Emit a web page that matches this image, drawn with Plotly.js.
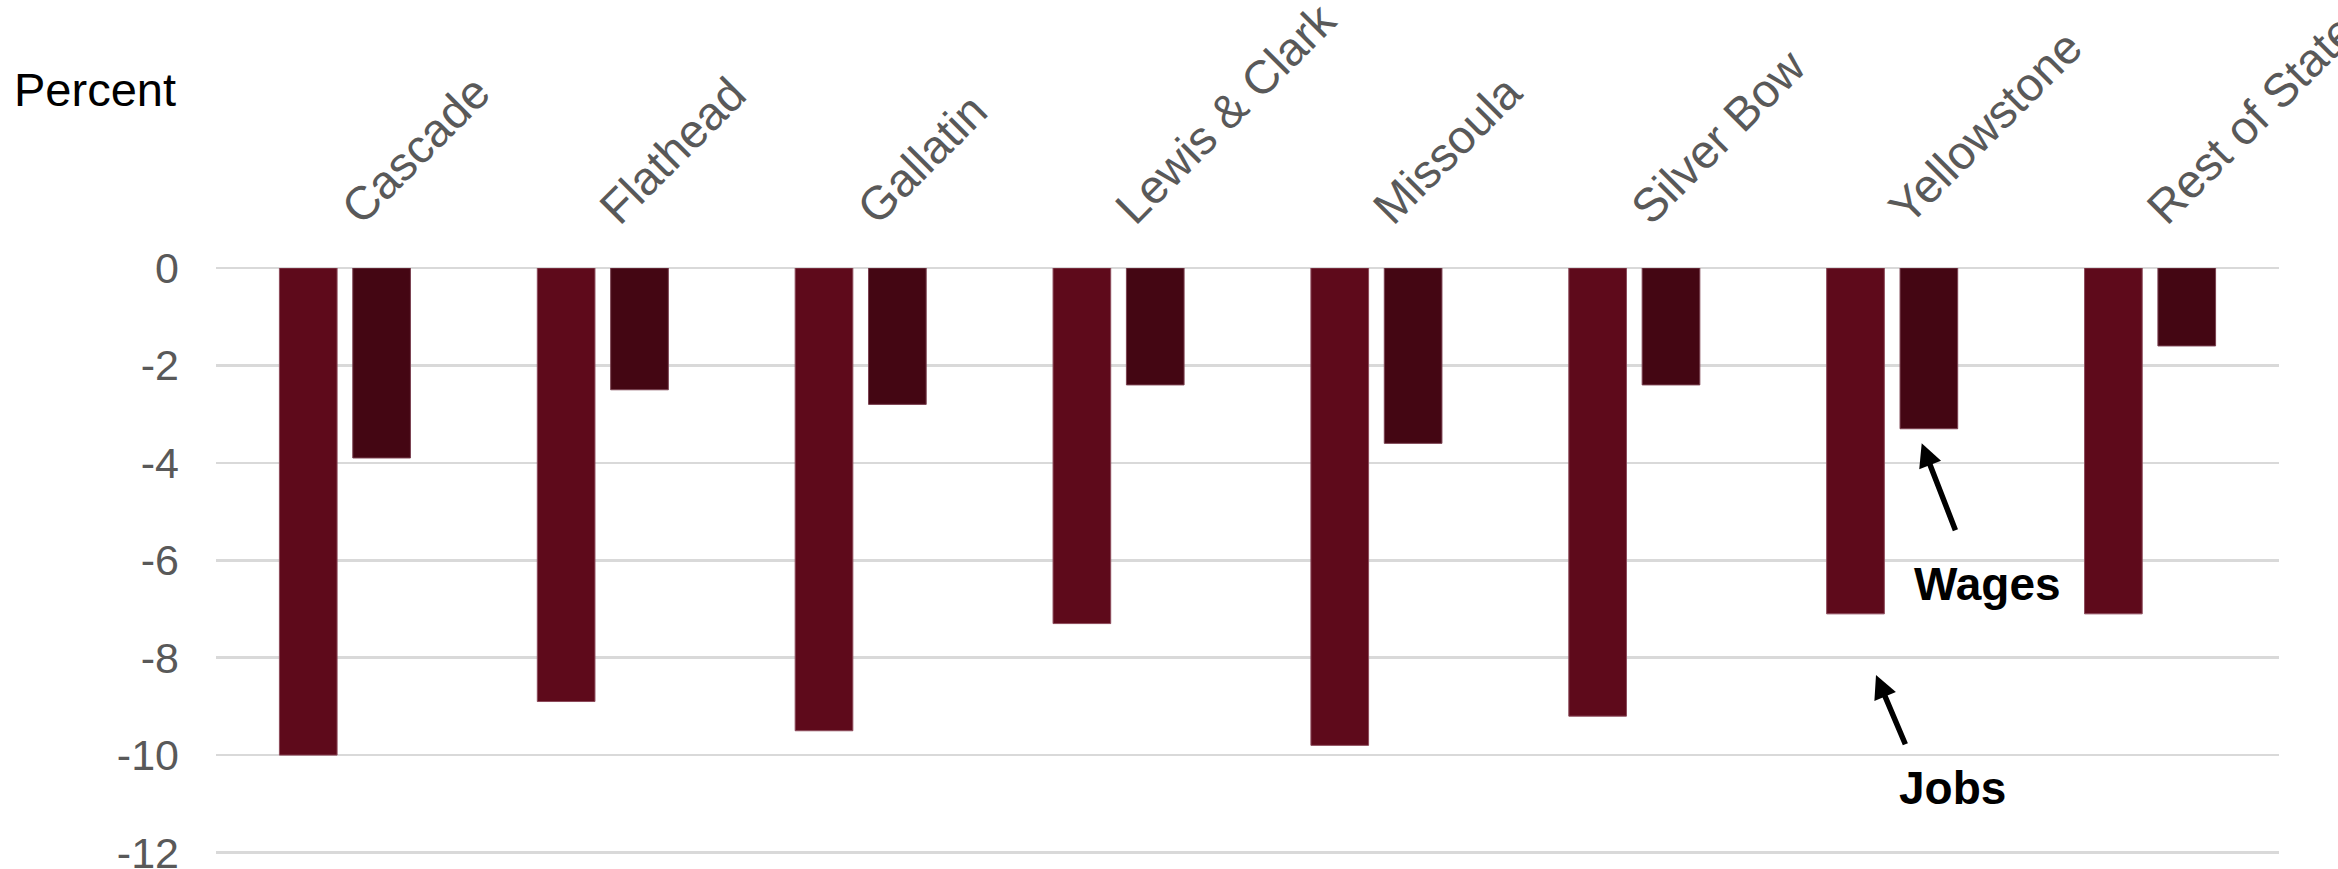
<!DOCTYPE html>
<html>
<head>
<meta charset="utf-8">
<script src="https://cdn.plot.ly/plotly-3.0.1.min.js"></script>
<style>
  html, body { margin: 0; padding: 0; background: #ffffff; }
  #chart { width: 2338px; height: 869px; }
</style>
</head>
<body>
<div id="chart"></div>
<script>
// ---- Data ----
const categories = ["Cascade", "Flathead", "Gallatin", "Lewis & Clark", "Missoula", "Silver Bow", "Yellowstone", "Rest of State"];
const jobs  = [-10.0, -8.9, -9.5, -7.3, -9.8, -9.2, -7.1, -7.1];
const wages = [-3.9, -2.5, -2.8, -2.4, -3.6, -2.4, -3.3, -1.6];
const yTickValues = [0, -2, -4, -6, -8, -10, -12];
const seriesNames = ["Jobs", "Wages"];

// ---- Layout geometry (pixels) ----
const W = 2338, H = 869;
const plotL = 216, plotR = 2279, plotT = 268, plotB = 854;
const pw = plotR - plotL, ph = plotB - plotT;
const px = (x) => (x - plotL) / pw;
const py = (y) => (plotB - y) / ph;

const FONT = "Liberation Sans, Arial, Helvetica, sans-serif";

const traces = [
  {
    type: "bar", name: seriesNames[0], x: categories, y: jobs,
    marker: { color: "#5e0a1b", line: { color: "#8c4a5a", width: 1 } },
    hoverinfo: "x+y"
  },
  {
    type: "bar", name: seriesNames[1], x: categories, y: wages,
    marker: { color: "#440613", line: { color: "#7a4050", width: 1 } },
    hoverinfo: "x+y"
  }
];

const arrowCommon = {
  xref: "paper", yref: "paper", axref: "pixel", ayref: "pixel",
  showarrow: true, arrowhead: 2, arrowsize: 0.85, arrowwidth: 5.5,
  arrowcolor: "#000000", text: "", font: { size: 1 }
};

const layout = {
  width: W, height: H,
  paper_bgcolor: "#ffffff", plot_bgcolor: "#ffffff",
  margin: { l: plotL, r: W - plotR, t: plotT, b: H - plotB, pad: 0 },
  showlegend: false,
  barmode: "group",
  bargap: 0.431,
  bargroupgap: 0.214,
  font: { family: FONT, color: "#595959" },
  xaxis: {
    type: "category",
    side: "top",
    tickangle: -45,
    tickfont: { family: FONT, size: 47, color: "#595959" },
    showgrid: false, zeroline: false, showline: false, ticks: "",
    ticklabelstandoff: 24,
    ticklabeloverflow: "allow",
    automargin: false
  },
  yaxis: {
    range: [-12.03, 0],
    tickvals: yTickValues,
    ticktext: yTickValues.map(String),
    tickfont: { family: FONT, size: 43, color: "#595959" },
    showgrid: true, gridcolor: "#d9d9d9", gridwidth: 2.5,
    zeroline: true, zerolinecolor: "#d9d9d9", zerolinewidth: 2.5,
    showline: false, ticks: "",
    ticklabelstandoff: 36,
    ticklabeloverflow: "allow",
    automargin: false
  },
  annotations: [
    {
      text: "Percent", xref: "paper", yref: "paper",
      x: px(178), y: py(90), xanchor: "right", yanchor: "middle",
      showarrow: false, font: { family: FONT, size: 47, color: "#000000" }
    },
    Object.assign({}, arrowCommon, { x: px(1921.7), y: py(443.3), ax: 34.3, ay: 88.4 }),
    {
      text: "<b>Wages</b>", xref: "paper", yref: "paper",
      x: px(1987.5), y: py(584), xanchor: "center", yanchor: "middle",
      showarrow: false, font: { family: FONT, size: 46, color: "#000000" }
    },
    Object.assign({}, arrowCommon, { x: px(1876), y: py(675), ax: 30, ay: 70.7 }),
    {
      text: "<b>Jobs</b>", xref: "paper", yref: "paper",
      x: px(1952.5), y: py(787.5), xanchor: "center", yanchor: "middle",
      showarrow: false, font: { family: FONT, size: 46, color: "#000000" }
    }
  ]
};

Plotly.newPlot("chart", traces, layout, { displayModeBar: false, staticPlot: true });
</script>
</body>
</html>
